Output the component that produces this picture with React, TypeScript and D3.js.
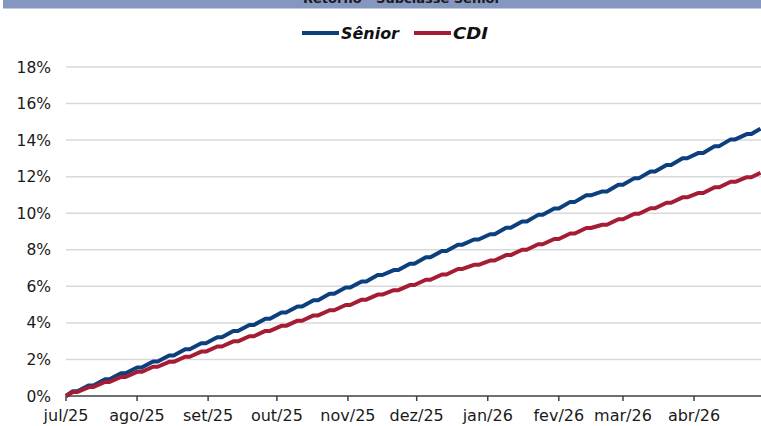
import React, { useEffect, useRef } from "react";
import * as d3 from "d3";

// Fridays (week closes) + last day of the series
const weekEnds = [
  "2025-07-04", "2025-07-11", "2025-07-18", "2025-07-25",
  "2025-08-01", "2025-08-08", "2025-08-15", "2025-08-22", "2025-08-29",
  "2025-09-05", "2025-09-12", "2025-09-19", "2025-09-26",
  "2025-10-03", "2025-10-10", "2025-10-17", "2025-10-24", "2025-10-31",
  "2025-11-07", "2025-11-14", "2025-11-21", "2025-11-28",
  "2025-12-05", "2025-12-12", "2025-12-19", "2025-12-26",
  "2026-01-02", "2026-01-09", "2026-01-16", "2026-01-23", "2026-01-30",
  "2026-02-06", "2026-02-13", "2026-02-20", "2026-02-27",
  "2026-03-06", "2026-03-13", "2026-03-20", "2026-03-27",
  "2026-04-03", "2026-04-10", "2026-04-17", "2026-04-24", "2026-04-30",
];

// accumulated return (%)
const senior = [
  0.26, 0.58, 0.91, 1.24,
  1.56, 1.89, 2.22, 2.56, 2.89,
  3.22, 3.56, 3.89, 4.23,
  4.57, 4.9, 5.24, 5.59, 5.93,
  6.27, 6.62, 6.89, 7.24,
  7.59, 7.93, 8.28, 8.56,
  8.85, 9.2, 9.55, 9.91, 10.26,
  10.62, 10.98, 11.19, 11.56,
  11.92, 12.28, 12.64, 13.01,
  13.3, 13.67, 14.04, 14.33, 14.63,
];

const cdi = [
  0.22, 0.49, 0.77, 1.04,
  1.32, 1.6, 1.87, 2.15, 2.43,
  2.71, 2.99, 3.27, 3.56,
  3.84, 4.12, 4.41, 4.69, 4.98,
  5.27, 5.55, 5.79, 6.07,
  6.36, 6.65, 6.95, 7.18,
  7.41, 7.71, 8.0, 8.3, 8.59,
  8.89, 9.19, 9.37, 9.67,
  9.97, 10.27, 10.57, 10.87,
  11.11, 11.42, 11.72, 11.97, 12.21,
];

const monthTicks = [
  "2025-07-01", "2025-08-01", "2025-09-01", "2025-10-01", "2025-11-01",
  "2025-12-01", "2026-01-01", "2026-02-01", "2026-03-01", "2026-04-01",
];
const monthLabels = [
  "jul/25", "ago/25", "set/25", "out/25", "nov/25",
  "dez/25", "jan/26", "fev/26", "mar/26", "abr/26",
];
const yTicks = [0, 2, 4, 6, 8, 10, 12, 14, 16, 18];

const startDate = "2025-07-01";
const endDate = "2026-05-01";

const FONT = "Verdana, 'DejaVu Sans', sans-serif";

const App = () => {
  const container = useRef<HTMLDivElement>(null);

  useEffect(() => {
    const width = 761;
    const height = 426;
    const marginLeft = 66;
    const plotRight = 762.8;
    const marginTop = 67;
    const axisY = 396;

    const parse = d3.timeParse("%Y-%m-%d");

    const x = d3
      .scaleTime()
      .domain([parse(startDate)!, parse(endDate)!])
      .range([marginLeft, plotRight]);

    const y = d3.scaleLinear().domain([0, 18]).range([axisY, marginTop]);

    const svg = d3
      .select(container.current)
      .append("svg")
      .attr("width", width)
      .attr("height", height)
      .attr("viewBox", [0, 0, width, height])
      .style("position", "absolute")
      .style("left", "0px")
      .style("top", "0px")
      .style("background", "#fff");

    // title bar (cut off at the top, as in the source image)
    svg
      .append("rect")
      .attr("x", 3)
      .attr("y", 0)
      .attr("width", width - 3)
      .attr("height", 8.5)
      .attr("fill", "#8597c1");
    svg
      .append("text")
      .attr("x", 402)
      .attr("y", 3)
      .attr("text-anchor", "middle")
      .attr("font-family", FONT)
      .attr("font-weight", "bold")
      .attr("font-size", 13)
      .attr("fill", "#1a1a1a")
      .text("Retorno - Subclasse Sênior");

    // legend
    const legend = [
      { name: "Sênior", color: "#0b3f7e", x0: 302, len: 58 },
      { name: "CDI", color: "#a51d35", x0: 414, len: 35 },
    ];
    legend.forEach((l) => {
      svg
        .append("line")
        .attr("x1", l.x0)
        .attr("x2", l.x0 + 37)
        .attr("y1", 33)
        .attr("y2", 33)
        .attr("stroke", l.color)
        .attr("stroke-width", 4);
      svg
        .append("text")
        .attr("x", l.x0 + 39)
        .attr("y", 39)
        .attr("font-family", FONT)
        .attr("font-weight", "bold")
        .attr("font-style", "italic")
        .attr("font-size", 16)
        .attr("textLength", l.len)
        .attr("lengthAdjust", "spacingAndGlyphs")
        .attr("fill", "#111")
        .text(l.name);
    });

    // gridlines
    svg
      .append("g")
      .selectAll("line")
      .data(yTicks.filter((t) => t > 0))
      .join("line")
      .attr("x1", marginLeft)
      .attr("x2", width)
      .attr("y1", (d) => y(d))
      .attr("y2", (d) => y(d))
      .attr("stroke", "#d9d9d9")
      .attr("stroke-width", 1.5);

    // y labels
    svg
      .append("g")
      .selectAll("text")
      .data(yTicks)
      .join("text")
      .attr("x", 51)
      .attr("y", (d) => y(d))
      .attr("dy", "0.36em")
      .attr("text-anchor", "end")
      .attr("font-family", FONT)
      .attr("font-size", 15.5)
      .attr("fill", "#1a1a1a")
      .text((d) => `${d}%`);

    // x axis
    const xAxis = svg.append("g");
    xAxis
      .append("line")
      .attr("x1", marginLeft)
      .attr("x2", width)
      .attr("y1", axisY)
      .attr("y2", axisY)
      .attr("stroke", "#404040")
      .attr("stroke-width", 1.5);
    xAxis
      .selectAll("line.tick")
      .data(monthTicks)
      .join("line")
      .attr("class", "tick")
      .attr("x1", (d) => x(parse(d)!))
      .attr("x2", (d) => x(parse(d)!))
      .attr("y1", axisY)
      .attr("y2", axisY + 5)
      .attr("stroke", "#404040")
      .attr("stroke-width", 1.5);
    xAxis
      .selectAll("text")
      .data(monthTicks)
      .join("text")
      .attr("x", (d) => x(parse(d)!))
      .attr("y", 420.5)
      .attr("text-anchor", "middle")
      .attr("font-family", FONT)
      .attr("font-size", 16)
      .attr("fill", "#1a1a1a")
      .text((d, i) => monthLabels[i]);

    // series: rises Mon-Fri, flat over the weekend
    const buildPoints = (vals: number[]) => {
      const pts: [Date, number][] = [[parse(startDate)!, 0]];
      vals.forEach((v, i) => {
        const d = parse(weekEnds[i])!;
        pts.push([d, v]);
        if (i < vals.length - 1) pts.push([d3.timeDay.offset(d, 2), v]);
      });
      return pts;
    };

    const line = d3
      .line<[Date, number]>()
      .x((d) => x(d[0]))
      .y((d) => y(d[1]));

    svg
      .append("clipPath")
      .attr("id", "plot-clip")
      .append("rect")
      .attr("x", marginLeft - 4)
      .attr("y", 0)
      .attr("width", width - marginLeft + 4)
      .attr("height", height);

    const series = [
      { vals: senior, color: "#0b3f7e" },
      { vals: cdi, color: "#a51d35" },
    ];
    svg
      .append("g")
      .attr("clip-path", "url(#plot-clip)")
      .selectAll("path")
      .data(series)
      .join("path")
      .attr("fill", "none")
      .attr("stroke", (d) => d.color)
      .attr("stroke-width", 4)
      .attr("stroke-linejoin", "round")
      .attr("d", (d) => line(buildPoints(d.vals)));

    return () => {
      svg.remove();
    };
  }, []);

  return <div ref={container}></div>;
};

export default App;
